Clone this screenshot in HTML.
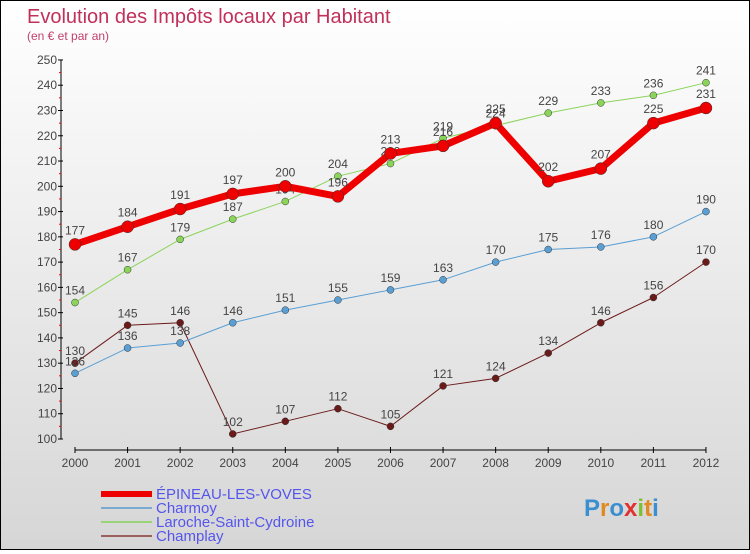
<!DOCTYPE html>
<html><head><meta charset="utf-8"><style>
html,body{margin:0;padding:0}
body{width:750px;height:550px;overflow:hidden;font-family:"Liberation Sans",sans-serif}
#wrap{position:relative;width:748px;height:548px;border:1px solid #000;background:linear-gradient(#ffffff,#d6d6d6)}
</style></head><body>
<div id="wrap">
<svg id="chart" width="748" height="548"></svg>
</div>
<script>
const years=[2000,2001,2002,2003,2004,2005,2006,2007,2008,2009,2010,2011,2012];
const epineau=[177,184,191,197,200,196,213,216,225,202,207,225,231];
const charmoy=[126,136,138,146,151,155,159,163,170,175,176,180,190];
const laroche=[154,167,179,187,194,204,209,219,224,229,233,236,241];
const champlay=[130,145,146,102,107,112,105,121,124,134,146,156,170];
const yTicks=[100,110,120,130,140,150,160,170,180,190,200,210,220,230,240,250];
const NS='http://www.w3.org/2000/svg';
const svg=document.getElementById('chart');
function X(i){return 74+i*52.58;}
function Y(v){return 438-(v-100)*2.527;}
function el(t,a,p){const e=document.createElementNS(NS,t);for(const k in a)e.setAttribute(k,a[k]);(p||svg).appendChild(e);return e;}
function txt(x,y,s,a,p){const e=el('text',Object.assign({x:x,y:y},a),p);e.textContent=s;return e;}
let t=txt(26,22,'Evolution des Impôts locaux par Habitant',{'font-size':20,fill:'#c0305a'});

t=txt(26,39,'(en € et par an)',{'font-size':12,fill:'#c0406a'});

const ya=el('g',{});
el('line',{x1:60,y1:Y(250),x2:60,y2:Y(100),stroke:'#000','stroke-width':1},ya);
yTicks.forEach(v=>{el('line',{x1:57,y1:Y(v),x2:62,y2:Y(v),stroke:'#000'},ya);
 if(v<250)el('line',{x1:58,y1:Y(v+5),x2:60,y2:Y(v+5),stroke:'#f00'},ya);
 const l=txt(56,Y(v)+4,String(v),{'font-size':12,fill:'#444','text-anchor':'end'},ya);
 });
const xa=el('g',{});
el('line',{x1:X(0),y1:449,x2:X(12),y2:449,stroke:'#000'},xa);
years.forEach((y,i)=>{el('line',{x1:X(i),y1:446,x2:X(i),y2:452,stroke:'#000'},xa);
 const l=txt(X(i),466,String(y),{'font-size':12,fill:'#444','text-anchor':'middle'},xa);
 });
function series(data,color,w,r,name,lblDy){
 const g=el('g',{});
 el('polyline',{points:data.map((v,i)=>X(i)+','+Y(v)).join(' '),fill:'none',stroke:color,'stroke-width':w,'stroke-linejoin':'round'},g);
 data.forEach((v,i)=>{const c=el('circle',{cx:X(i),cy:Y(v),r:r,fill:color,stroke:'#333','stroke-width':0.5},g);
  
  const l=txt(X(i),Y(v)+lblDy,String(v),{'font-size':12,fill:'#444','text-anchor':'middle'},g);
  });
}
series(champlay,'#6b1a1a',1,3.5,'series-champlay',-8);
series(laroche,'#8ad45a',1,3.5,'series-laroche',-8);
series(charmoy,'#5a9fd4',1,3.5,'series-charmoy',-8);
series(epineau,'#ee0000',7,6,'series-epineau',-10);
const lg=el('g',{});
[['ÉPINEAU-LES-VOVES','#ee0000',6],['Charmoy','#7aaad0',2],['Laroche-Saint-Cydroine','#9ad47a',2],['Champlay','#9a6060',2]].forEach((d,i)=>{
 const y=493+i*14;
 el('line',{x1:100,y1:y,x2:151,y2:y,stroke:d[1],'stroke-width':d[2]},lg);
 const l=txt(155,y+5,d[0],{'font-size':15,fill:'#5555ee'},lg);
 });
const lo=txt(583,515,'',{'font-size':24,'font-weight':'bold'});

[['P','#3a8fd0'],['r','#e08a20'],['o','#3a8fd0'],['x','#e03030'],['i','#80c030'],['t','#e08a20'],['i','#3a8fd0']].forEach(c=>{const s=el('tspan',{fill:c[1]},lo);s.textContent=c[0];});
</script>
</body></html>
